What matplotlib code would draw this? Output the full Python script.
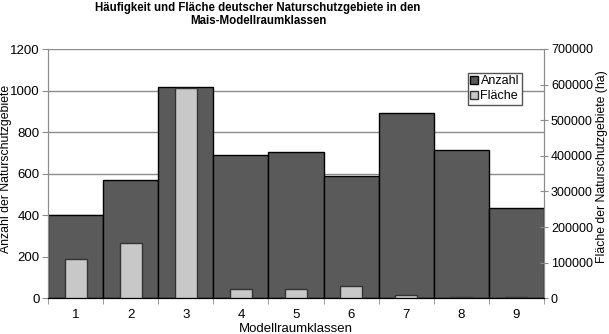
import numpy as np
import matplotlib
matplotlib.use("Agg")
import matplotlib.pyplot as plt
from matplotlib.patches import Patch

# Data
klassen = ["1", "2", "3", "4", "5", "6", "7", "8", "9"]
anzahl = [400, 568, 1016, 688, 702, 588, 891, 712, 435]
flaeche = [110000, 154000, 590000, 25000, 27000, 35000, 8000, 5000, 3000]

W, H, DPI = 609, 334, 100
DARK = '#5a5a5a'
LIGHT = '#c8c8c8'
GRID = '#8c8c8c'
FS = 9

plt.rcParams['font.family'] = ['Liberation Sans', 'DejaVu Sans']
plt.rcParams['font.size'] = FS

fig = plt.figure(figsize=(W / DPI, H / DPI), dpi=DPI)
ax = fig.add_axes([48 / W, 1 - 298.3 / H, (544 - 48) / W, (298.3 - 49) / H])

x = np.arange(1, len(klassen) + 1)

ax.set_axisbelow(True)
ax.bar(x, anzahl, width=1.0, color=DARK, edgecolor='black', linewidth=1.0, zorder=2)
ax.set_xlim(0.5, len(klassen) + 0.5)
ax.set_ylim(0, 1200)
ax.set_yticks(np.arange(0, 1201, 200))
ax.yaxis.grid(True, color=GRID, linewidth=1.0)
ax.set_xticks(x)
ax.set_xticklabels(klassen, fontsize=9.5)
ax.set_xticks(np.arange(0.5, len(klassen) + 1), minor=True)
ax.tick_params(axis='x', which='major', length=0, pad=8)
ax.tick_params(axis='x', which='minor', length=4, color=GRID, direction='out')
ax.tick_params(axis='y', length=4, color=GRID, direction='out', pad=2, labelsize=9.5)
ax.set_ylabel("Anzahl der Naturschutzgebiete", fontsize=8.8)
ax.yaxis.set_label_coords((12.5 - 48) / 496, 0.52)
ax.set_xlabel("Modellraumklassen", labelpad=1, fontsize=9.5)

ax2 = ax.twinx()
ax2.bar(x, flaeche, width=0.4, color=LIGHT, edgecolor='#333333', linewidth=1.0, zorder=3)
ax2.set_ylim(0, 700000)
ax2.set_yticks(np.arange(0, 700001, 100000))
ax2.tick_params(axis='y', length=6, color=GRID, direction='inout', pad=2)
ax2.set_ylabel("Fläche der Naturschutzgebiete (ha)", rotation=90, fontsize=8.8)
ax2.yaxis.set_label_coords((595.5 - 48) / 496, 0.53)

for a in (ax, ax2):
    a.spines['top'].set_visible(False)
    a.spines['left'].set_color(GRID)
    a.spines['right'].set_color(GRID)
    a.spines['bottom'].set_color('black')

handles = [Patch(facecolor=DARK, edgecolor='black', label='Anzahl'),
           Patch(facecolor=LIGHT, edgecolor='#333333', label='Fläche')]
leg = fig.legend(handles=handles, loc='upper left', bbox_to_anchor=(468 / W, 1 - 73 / H),
                 fancybox=False, framealpha=1, edgecolor='#555555', fontsize=9,
                 handlelength=0.6, handleheight=0.6, handletextpad=0.2,
                 borderpad=0.2, labelspacing=0.2, borderaxespad=0)

fig.text(258 / W, 1 - 2 / H, "Häufigkeit und Fläche deutscher Naturschutzgebiete in den\nMais-Modellraumklassen",
         ha='center', va='top', fontsize=8.3, fontweight='bold', linespacing=1.15)

fig.savefig("out.png", dpi=DPI)
